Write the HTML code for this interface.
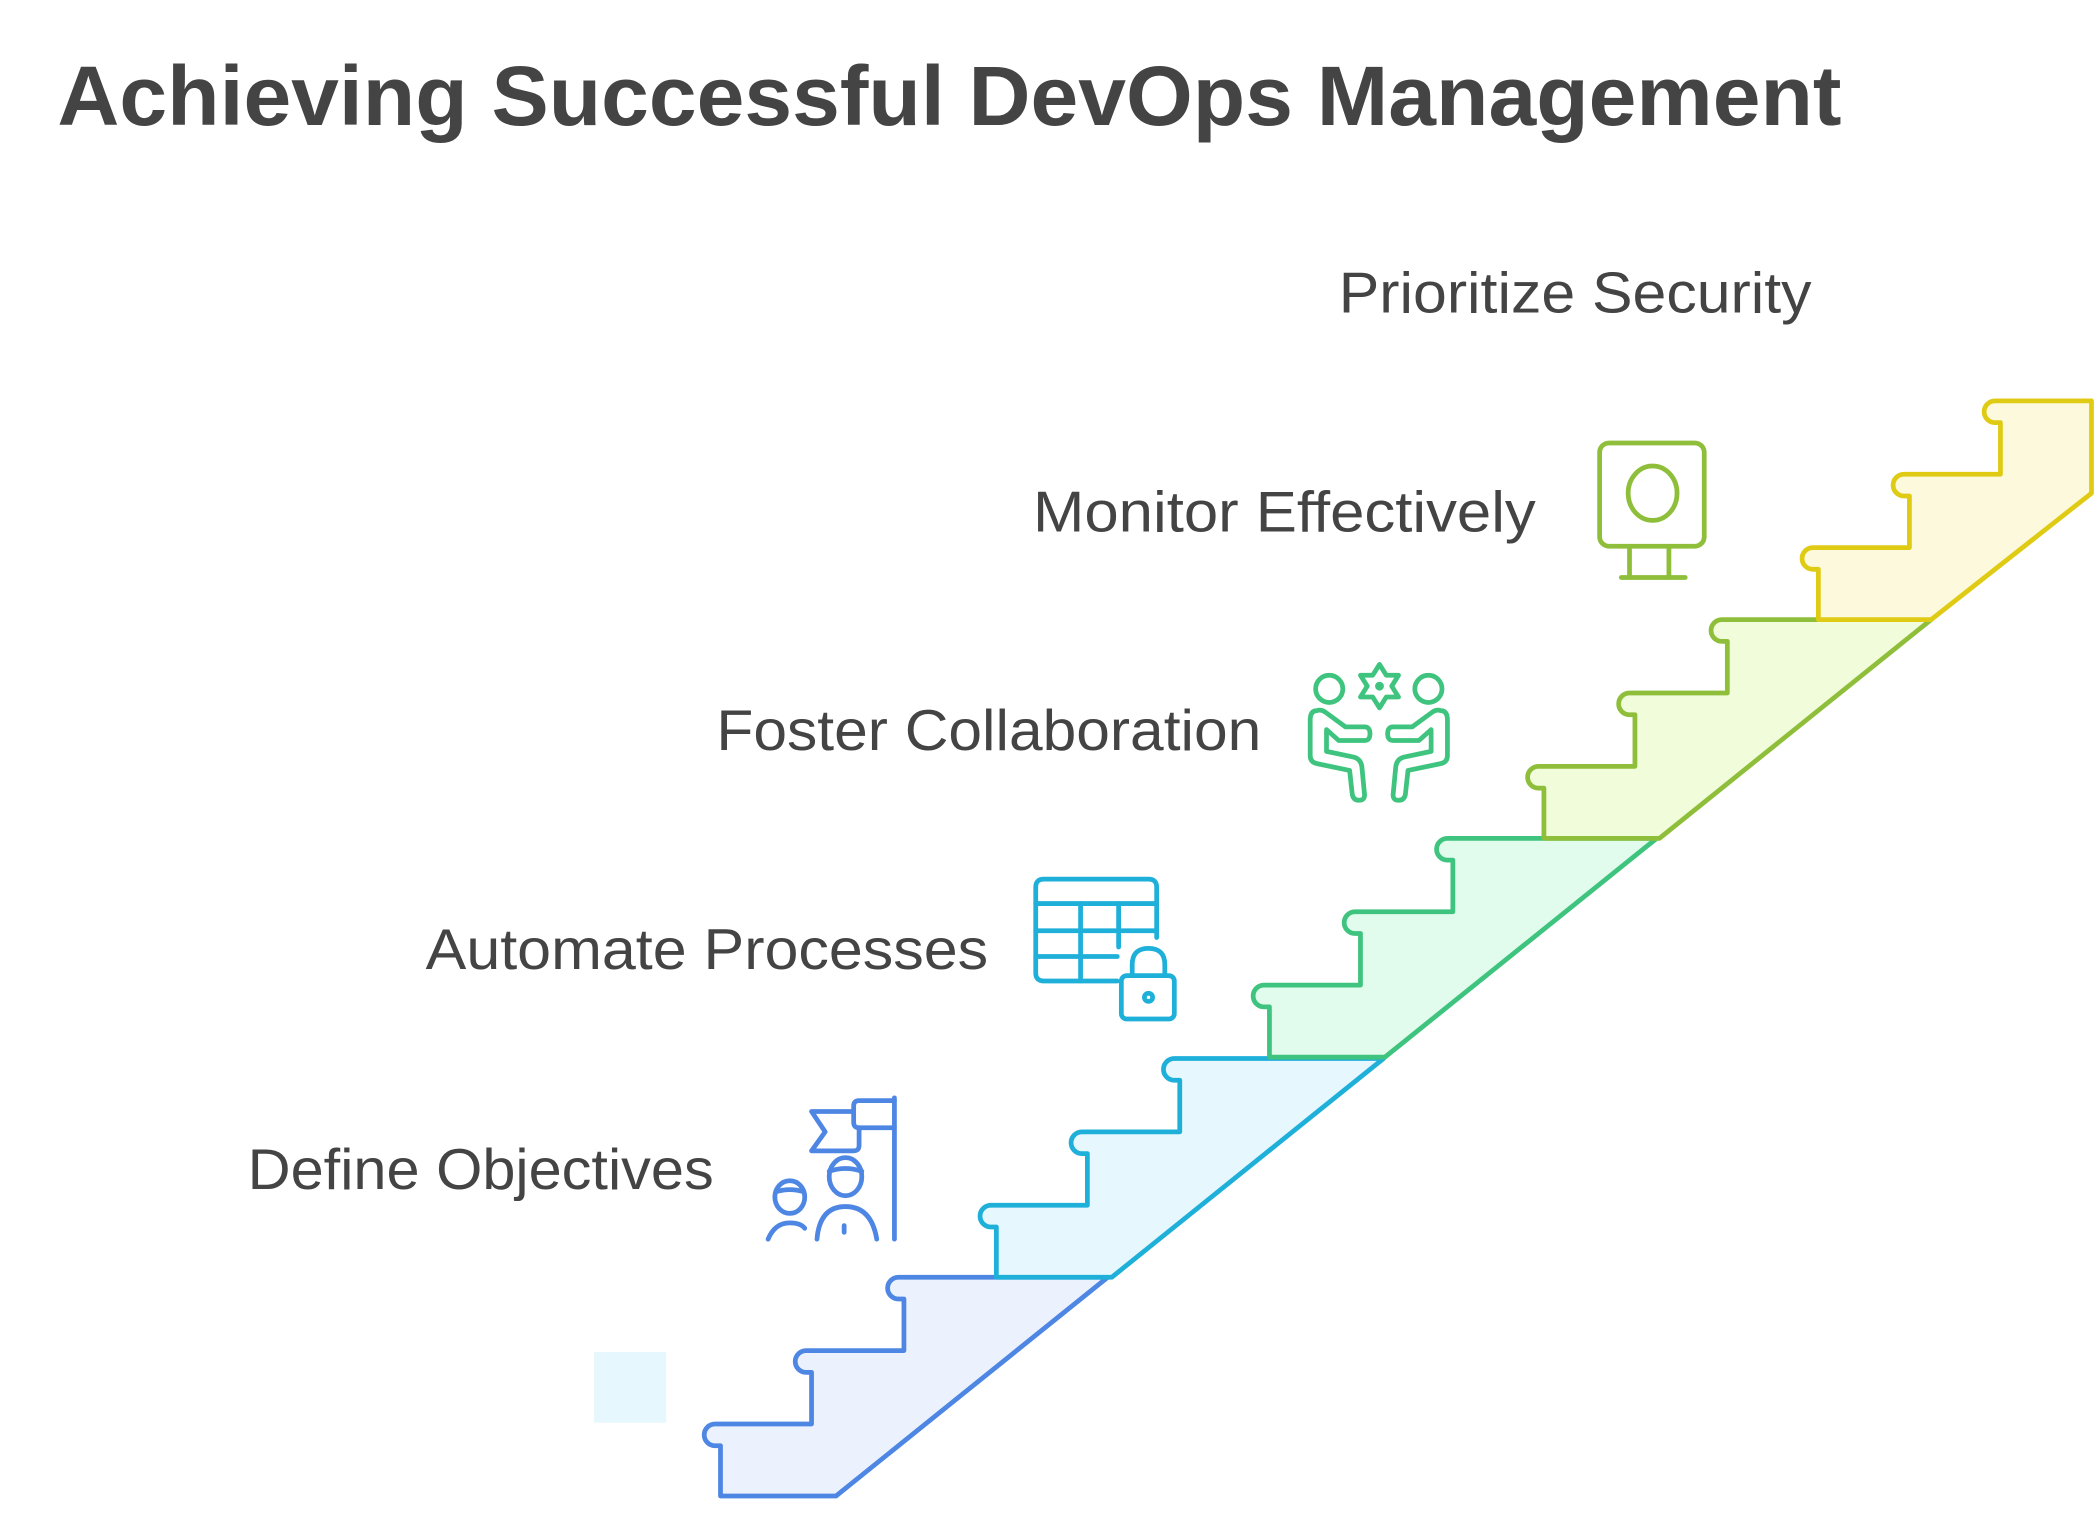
<!DOCTYPE html>
<html><head><meta charset="utf-8"><style>
html,body{margin:0;padding:0;background:#fff;}
svg{display:block;}
text{font-family:"Liberation Sans",sans-serif;fill:#444;}
</style></head><body>
<svg width="2100" height="1515" viewBox="0 0 1545 1115" xmlns="http://www.w3.org/2000/svg">
<text x="42" y="92" font-size="62" font-weight="bold" textLength="1313" lengthAdjust="spacingAndGlyphs">Achieving Successful DevOps Management</text>
<text x="985" y="230" font-size="42" textLength="348" lengthAdjust="spacingAndGlyphs">Prioritize Security</text>
<text x="760" y="391" font-size="42" textLength="370" lengthAdjust="spacingAndGlyphs">Monitor Effectively</text>
<text x="527" y="552" font-size="42" textLength="401" lengthAdjust="spacingAndGlyphs">Foster Collaboration</text>
<text x="313" y="713" font-size="42" textLength="414" lengthAdjust="spacingAndGlyphs">Automate Processes</text>
<text x="182" y="875" font-size="42" textLength="343" lengthAdjust="spacingAndGlyphs">Define Objectives</text>

<rect x="437" y="995" width="53" height="52" fill="#e6f7fd"/>

<g stroke-width="3.5" stroke-linejoin="round" stroke-linecap="round">
<path fill="#ebf2fe" stroke="#4e86e4" d="M530 1101 L615 1101 L815 940 L661 940 A8 8 0 0 0 661 956 L665 956 L665 994 L593 994 A8 8 0 0 0 593 1010 L597 1010 L597 1048 L526 1048 A8 8 0 0 0 526 1064 L530 1064 Z"/>
<path fill="#e6f7fd" stroke="#1fb0da" d="M733 940 L818 940 L1018 779 L864 779 A8 8 0 0 0 864 795 L868 795 L868 833 L796 833 A8 8 0 0 0 796 849 L800 849 L800 887 L729 887 A8 8 0 0 0 729 903 L733 903 Z"/>
<path fill="#e1fbec" stroke="#3ec47e" d="M934 778 L1019 778 L1219 617 L1065 617 A8 8 0 0 0 1065 633 L1069 633 L1069 671 L997 671 A8 8 0 0 0 997 687 L1001 687 L1001 725 L930 725 A8 8 0 0 0 930 741 L934 741 Z"/>
<path fill="#f1fcdb" stroke="#8fbf3a" d="M1136 617 L1221 617 L1421 456 L1267 456 A8 8 0 0 0 1267 472 L1271 472 L1271 510 L1199 510 A8 8 0 0 0 1199 526 L1203 526 L1203 564 L1132 564 A8 8 0 0 0 1132 580 L1136 580 Z"/>
<path fill="#fdf9dc" stroke="#e0cb14" d="M1338 456 L1421 456 L1539 363 L1539 295 L1468 295 A8 8 0 0 0 1468 311 L1472 311 L1472 349 L1401 349 A8 8 0 0 0 1401 365 L1405 365 L1405 403 L1334 403 A8 8 0 0 0 1334 419 L1338 419 Z"/>
</g>

<g fill="none" stroke="#8fbf3a" stroke-width="3.5" stroke-linecap="round">
<rect x="1177" y="326" width="77" height="76" rx="7"/>
<ellipse cx="1216" cy="363" rx="18" ry="20"/>
<line x1="1199" y1="402" x2="1199" y2="425"/>
<line x1="1228" y1="402" x2="1228" y2="425"/>
<line x1="1193" y1="425" x2="1240" y2="425"/>
</g>

<g fill="none" stroke="#3ec47e" stroke-width="3.5" stroke-linecap="round" stroke-linejoin="round">
<circle cx="978" cy="507" r="10"/>
<circle cx="1051" cy="507" r="10"/>
<path d="M1015 489 L1020 497 L1029 497 L1024 505 L1029 513 L1020 513 L1015 521 L1010 513 L1001 513 L1006 505 L1001 497 L1010 497 Z"/>
<circle cx="1015" cy="505" r="1.5" fill="#3ec47e"/>
<path d="M969 523 Q964 523 964 530 L964 556 Q964 561 969 562 L993 567 L995 585 Q996 589 1000 589 Q1004 589 1004 585 L1002 564 Q1001 558 995 557 L976 553 L976 537 L985 545 L1004 545 Q1008 545 1008 540 Q1008 535 1004 535 L990 535 L975 524 Q972 522 969 523 Z"/>
<path d="M1060 523 Q1065 523 1065 530 L1065 556 Q1065 561 1060 562 L1036 567 L1034 585 Q1033 589 1029 589 Q1025 589 1025 585 L1027 564 Q1028 558 1034 557 L1053 553 L1053 537 L1044 545 L1025 545 Q1021 545 1021 540 Q1021 535 1025 535 L1039 535 L1054 524 Q1057 522 1060 523 Z"/>
</g>

<g fill="none" stroke="#1fb0da" stroke-width="3.5" stroke-linecap="round" stroke-linejoin="round">
<path d="M822 722 L768 722 Q762 722 762 716 L762 653 Q762 647 768 647 L845 647 Q851 647 851 653 L851 690"/>
<line x1="762" y1="665" x2="851" y2="665"/>
<line x1="762" y1="685" x2="851" y2="685"/>
<line x1="762" y1="704" x2="822" y2="704"/>
<line x1="795" y1="665" x2="795" y2="722"/>
<line x1="823" y1="665" x2="823" y2="697"/>
<rect x="825" y="718" width="39" height="32" rx="4"/>
<path d="M833 718 L833 710 Q833 698 845 698 Q857 698 857 710 L857 718"/>
<circle cx="845" cy="734" r="3"/>
</g>

<g fill="none" stroke="#4e86e4" stroke-width="3.5" stroke-linecap="round" stroke-linejoin="round">
<line x1="658" y1="808" x2="658" y2="912"/>
<path d="M658 810 L632 810 Q628 810 628 814 L628 826 Q628 830 632 830 L658 830"/>
<path d="M628 818 L597 818 L607 833 L597 847 L628 847 Q632 847 632 843 L632 830"/>
<ellipse cx="622" cy="866" rx="12" ry="14"/>
<path d="M610 862 Q622 858 634 862"/>
<path d="M601 912 Q603 888 622 888 Q641 888 645 912"/>
<line x1="621" y1="902" x2="621" y2="907"/>
<ellipse cx="581" cy="881" rx="11" ry="12"/>
<path d="M571 877 Q581 874 591 877"/>
<path d="M565 912 Q570 900 581 900 Q589 900 592 904"/>
</g>
</svg>
</body></html>
